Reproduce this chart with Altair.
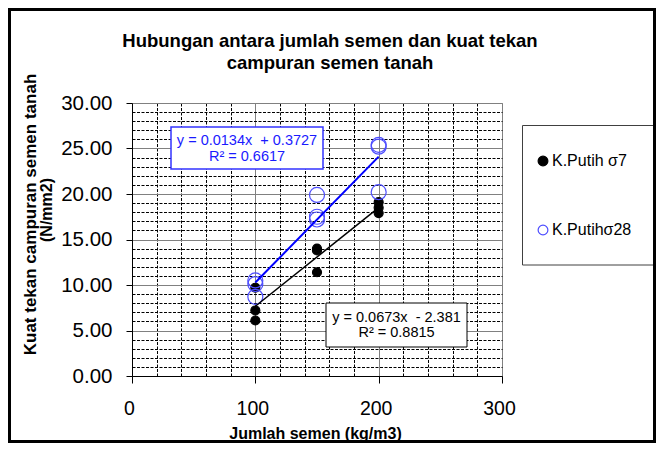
import altair as alt
import pandas as pd

FONT = "Liberation Sans"

SERIES = ["K.Putih σ7", "K.Putihσ28"]
X_S7 = [100, 100, 100, 150, 150, 150, 200, 200, 200]
Y_S7 = [9.7, 7.2, 6.1, 14.0, 13.8, 11.4, 19.1, 18.5, 17.9]
X_S28 = [100, 100, 100, 150, 150, 150, 200, 200, 200]
Y_S28 = [10.5, 10.1, 8.7, 19.9, 17.5, 17.2, 25.4, 25.2, 20.2]

X_TICKS = [0, 100, 200, 300]
X_MINOR = [20, 40, 60, 80, 120, 140, 160, 180, 220, 240, 260, 280]
Y_TICKS = [0, 5, 10, 15, 20, 25, 30]
Y_MINOR = [v for v in range(1, 30) if v % 5]

TITLE = ["Hubungan antara jumlah semen dan kuat tekan", "campuran semen tanah"]
X_TITLE = "Jumlah semen (kg/m3)"
Y_TITLE = ["Kuat tekan campuran semen tanah", "(N/mm2)"]
EQ_S7 = ["y = 0.0673x\u00a0 - 2.381", "R\u00b2 = 0.8815"]
EQ_S28 = ["y = 0.0134x\u00a0 + 0.3727", "R\u00b2 = 0.6617"]

COLORS_STROKE = ["black", "#4d4dff"]
COLORS_FILL = ["black", "transparent"]
SIZES = [81, 225]

df = pd.DataFrame({
    "x": X_S7 + X_S28,
    "y": Y_S7 + Y_S28,
    "series": [SERIES[0]] * len(X_S7) + [SERIES[1]] * len(X_S28),
})
one = pd.DataFrame({"k": [0]})

xs = alt.Scale(domain=[0, 300], nice=False, zero=False)
ys = alt.Scale(domain=[0, 30], nice=False, zero=False)

minor = alt.Chart(df).mark_point(opacity=0).encode(
    x=alt.X("x:Q", scale=xs, axis=alt.Axis(
        values=X_MINOR, grid=True, gridColor="black", gridDash=[3, 1.5], gridWidth=1,
        labels=False, ticks=False, domain=False, title=None, orient="bottom")),
    y=alt.Y("y:Q", scale=ys, axis=alt.Axis(
        values=Y_MINOR, grid=True, gridColor="black", gridDash=[3, 1.5], gridWidth=1,
        labels=False, ticks=False, domain=False, title=None, orient="left")),
)

pts = alt.Chart(df).mark_point(shape="circle", opacity=1, strokeWidth=1.2).encode(
    x=alt.X("x:Q", scale=xs, axis=alt.Axis(
        values=X_TICKS, grid=True, gridColor="#808080", gridWidth=1,
        domainColor="black", tickColor="black", tickSize=7,
        labelFont=FONT, labelFontSize=19.5, labelColor="black", labelPadding=16,
        labelFlush=False, labelOverlap=False, labelOffset=-3,
        title=X_TITLE, titleFont=FONT, titleFontSize=16, titleFontWeight="bold",
        titleColor="black", titleX=183, titleY=57, titleBaseline="middle",
        orient="bottom")),
    y=alt.Y("y:Q", scale=ys, axis=alt.Axis(
        values=Y_TICKS, format=".2f", grid=True, gridColor="#808080", gridWidth=1,
        domainColor="black", tickColor="black", tickSize=6,
        labelFont=FONT, labelFontSize=20.5, labelColor="black", labelPadding=14,
        labelOverlap=False,
        title=Y_TITLE[0], titleFont=FONT, titleFontSize=17, titleFontWeight="bold",
        titleColor="black", titleX=-102, titleY=111, titleAngle=270,
        titleAlign="center", titleBaseline="middle", orient="left")),
    stroke=alt.Stroke("series:N", scale=alt.Scale(domain=SERIES, range=COLORS_STROKE), legend=None),
    fill=alt.Fill("series:N", scale=alt.Scale(domain=SERIES, range=COLORS_FILL), legend=None),
    size=alt.Size("series:N", scale=alt.Scale(domain=SERIES, range=SIZES), legend=None),
)


def trend(name, color, width):
    return alt.Chart(df).transform_filter(
        alt.datum.series == name
    ).transform_regression("x", "y", extent=[100, 200]).mark_line(
        color=color, strokeWidth=width
    ).encode(
        x=alt.X("x:Q", scale=xs, axis=None),
        y=alt.Y("y:Q", scale=ys, axis=None),
    )


def txt(s, x, y, size, color="black", weight="normal", angle=0, align="center"):
    return alt.Chart(one).mark_text(
        text=s, font=FONT, fontSize=size, color=color, fontWeight=weight,
        align=align, baseline="middle", angle=angle
    ).encode(x=alt.value(x), y=alt.value(y))


def box(x, x2, y, y2, stroke, sw, fill_opacity=1):
    return alt.Chart(one).mark_rect(
        fill="white", fillOpacity=fill_opacity, stroke=stroke, strokeWidth=sw
    ).encode(x=alt.value(x), x2=alt.value(x2), y=alt.value(y), y2=alt.value(y2))


def legend_symbol(stroke, fill, y):
    return alt.Chart(one).mark_point(
        shape="circle", size=95, stroke=stroke, fill=fill, strokeWidth=1.2, opacity=1
    ).encode(x=alt.value(411), y=alt.value(y))


border = box(-122.5, 522.5, -93.5, 338.5, "black", 3, fill_opacity=0)

chart = alt.layer(
    minor,
    pts,
    trend(SERIES[0], "black", 1.5),
    trend(SERIES[1], "#0000ff", 2),
    box(39, 191, 24, 66, "#3333ff", 1.5),
    txt(EQ_S28[0], 115, 38, 14.5, color="#1a1aff"),
    txt(EQ_S28[1], 115, 53.5, 14.5, color="#1a1aff"),
    box(194, 335, 200, 244, "black", 1),
    txt(EQ_S7[0], 264.5, 215, 14.5),
    txt(EQ_S7[1], 264.5, 229.5, 14.5),
    # legend
    box(390.5, 524, 22.5, 162, "#404040", 1),
    legend_symbol(COLORS_STROKE[0], COLORS_FILL[0], 58),
    legend_symbol(COLORS_STROKE[1], COLORS_FILL[1], 127),
    txt(SERIES[0], 420, 58, 16, align="left"),
    txt(SERIES[1], 420, 127, 16, align="left"),
    # titles
    txt(TITLE[0], 198, -62, 18.5, weight="bold"),
    txt(TITLE[1], 198, -40, 18.5, weight="bold"),
    txt(Y_TITLE[1], -85, 107, 16, weight="bold", angle=270),
    border,
).resolve_axis(
    x="independent", y="independent"
).properties(
    width=370, height=273,
    padding={"left": 124, "top": 95, "right": 154, "bottom": 67},
    autosize=alt.AutoSizeParams(type="none"),
    background="white",
).configure_view(stroke="#808080", strokeWidth=1)

chart.save("out.html", embed_options={"renderer": "svg", "actions": False})
